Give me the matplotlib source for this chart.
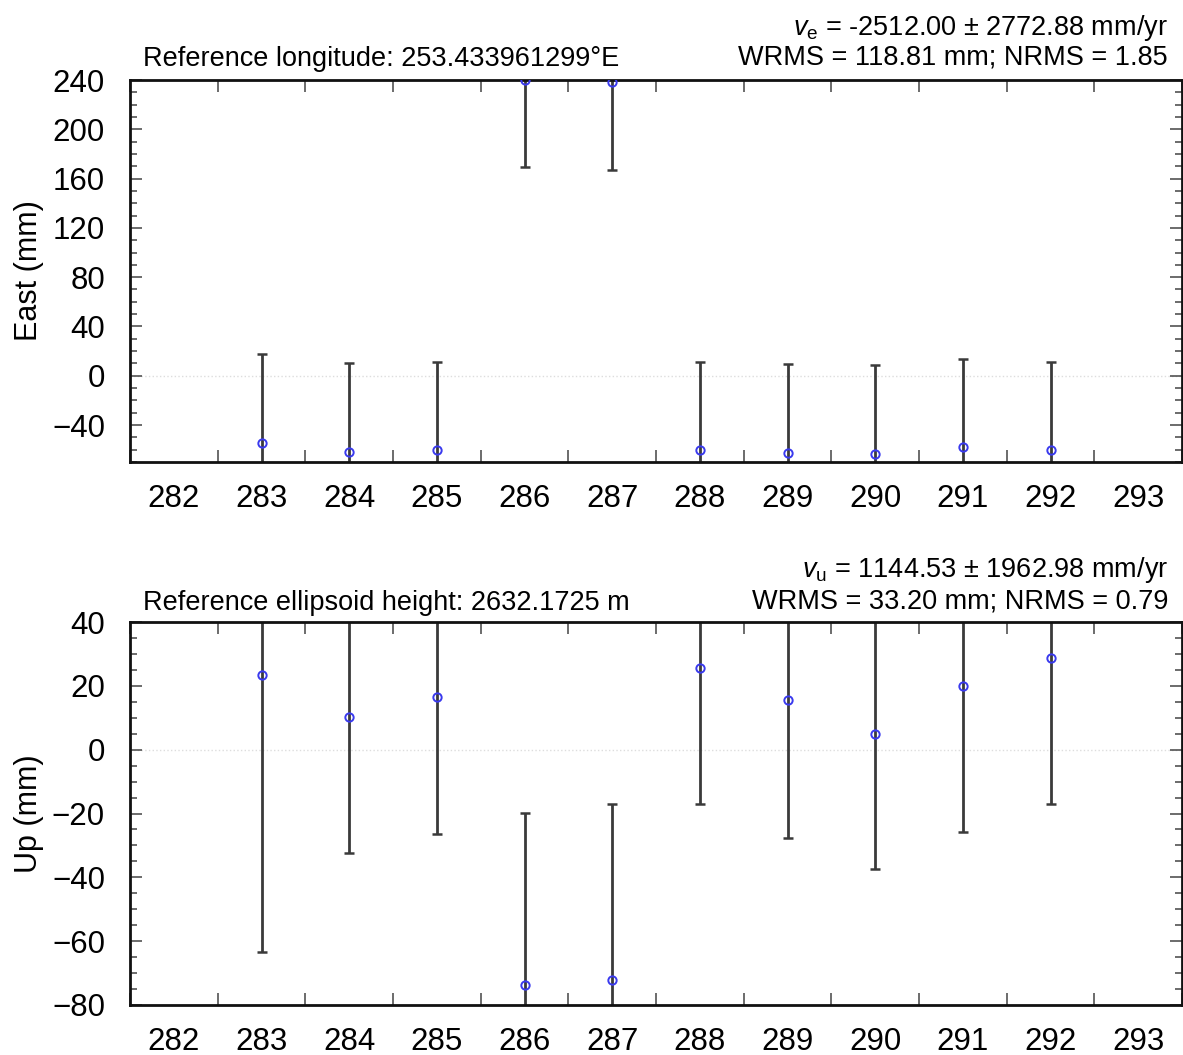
import matplotlib
matplotlib.use("Agg")
import matplotlib.pyplot as plt
from matplotlib.ticker import MultipleLocator, FixedLocator

plt.rcParams['font.family'] = ['Liberation Sans', 'DejaVu Sans']
plt.rcParams['mathtext.fontset'] = 'custom'
plt.rcParams['mathtext.rm'] = 'Liberation Sans'
plt.rcParams['mathtext.it'] = 'Liberation Sans:italic'

# ---- data ----
epochs = [283, 284, 285, 286, 287, 288, 289, 290, 291, 292]
east = [-54.7, -62.0, -60.4, 239.6, 238.0, -60.4, -62.9, -63.7, -58.0, -60.4]
east_sigma = [72.7, 72.6, 71.8, 70.6, 70.7, 71.8, 72.7, 72.7, 71.9, 71.8]
up = [23.3, 10.2, 16.5, -73.8, -72.2, 25.5, 15.5, 4.9, 20.1, 28.7]
up_sigma = [86.6, 42.5, 43.0, 54.0, 55.2, 42.4, 43.3, 42.4, 45.9, 45.8]
xtick_labels = [282, 283, 284, 285, 286, 287, 288, 289, 290, 291, 292, 293]

east_left = "Reference longitude: 253.433961299°E"
east_r1 = r"$v_\mathrm{e}$ = -2512.00 ± 2772.88 mm/yr"
east_r2 = "WRMS = 118.81 mm; NRMS = 1.85"
up_left = "Reference ellipsoid height: 2632.1725 m"
up_r1 = r"$v_\mathrm{u}$ = 1144.53 ± 1962.98 mm/yr"
up_r2 = "WRMS = 33.20 mm; NRMS = 0.79"

W, H = 1183, 1055
fig = plt.figure(figsize=(W / 100, H / 100), dpi=100)

def px_rect(l, t, r, b):
    return [l / W, 1 - b / H, (r - l) / W, (b - t) / H]

ax1 = fig.add_axes(px_rect(130, 80, 1182, 462))
ax2 = fig.add_axes(px_rect(130, 622, 1182, 1005))

def style(ax, vals, sig, ylim, major, minor, ylabel):
    ax.axhline(0, color='#dddddd', lw=1.0, ls=':', zorder=0)
    ax.errorbar(epochs, vals, yerr=sig, fmt='none', ecolor='#3a3a3a',
                elinewidth=2.0, capsize=3.5, capthick=1.8, zorder=2)
    ax.plot(epochs, vals, 'o', mfc='none', mec='#3a3aee', ms=6, mew=1.4, zorder=3)
    ax.set_xlim(281.5, 293.5)
    ax.set_ylim(*ylim)
    ax.xaxis.set_major_locator(FixedLocator(xtick_labels))
    ax.set_xticklabels([str(v) for v in xtick_labels])
    ax.xaxis.set_minor_locator(MultipleLocator(1, offset=0.5))
    ax.yaxis.set_major_locator(MultipleLocator(major))
    ax.yaxis.set_minor_locator(MultipleLocator(minor))
    ax.tick_params(axis='x', which='major', length=0, pad=16, labelsize=22.5)
    ax.tick_params(axis='x', which='minor', direction='in', length=8.5, width=1.1,
                   top=True, bottom=True, color='#444444')
    ax.tick_params(axis='y', which='major', direction='in', length=8.5, width=1.1,
                   left=True, right=True, pad=18, labelsize=22.5, color='#444444')
    ax.tick_params(axis='y', which='minor', direction='in', length=5, width=1.1,
                   left=True, right=True, color='#444444')
    for s in ax.spines.values():
        s.set_linewidth(2.0)
        s.set_color('#111111')
    ax.set_ylabel(ylabel, fontsize=22)
    ax.yaxis.set_label_coords(-0.082, 0.5)
    yt = ax.get_yticks()
    ax.set_yticklabels([('\u2212' + str(int(abs(v)))) if v < 0 else str(int(v)) for v in yt])
    ax.set_ylim(*ylim)

style(ax1, east, east_sigma, (-70, 240), 40, 10, 'East (mm)')
style(ax2, up, up_sigma, (-80, 40), 20, 5, 'Up (mm)')

def ty(px):
    return 1 - px / H

fs_l = 19.5
fs_r = 19.5
fig.text(143 / W, ty(66), east_left, fontsize=fs_l, ha='left', va='baseline')
fig.text(1168 / W, ty(65), east_r2, fontsize=fs_r, ha='right', va='baseline')
fig.text(1168 / W, ty(35), east_r1, fontsize=fs_r, ha='right', va='baseline')
fig.text(143 / W, ty(610), up_left, fontsize=fs_l, ha='left', va='baseline')
fig.text(1168 / W, ty(609), up_r2, fontsize=fs_r, ha='right', va='baseline')
fig.text(1168 / W, ty(577), up_r1, fontsize=fs_r, ha='right', va='baseline')

fig.savefig('out.png', dpi=100)
